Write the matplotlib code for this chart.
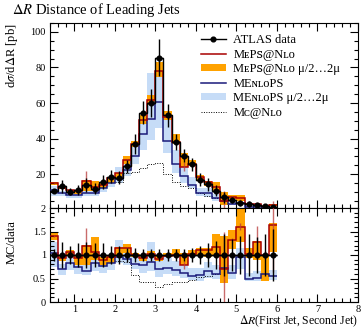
"""Delta-R between the two leading jets: ATLAS data vs. MC predictions."""

import numpy as np
import matplotlib

matplotlib.use("Agg")
from matplotlib import pyplot as plt
from matplotlib.lines import Line2D
from matplotlib.patches import Patch
from matplotlib.ticker import FuncFormatter, MultipleLocator

plt.rcParams["font.family"] = ["Liberation Serif", "DejaVu Serif", "DejaVu Sans"]
plt.rcParams["mathtext.fontset"] = "stix"

RED = "#a80000"
BLUE = "#1a1a7a"
ORANGE = "#ffa200"
LIGHTBLUE = "#c6dcf7"

bin_edges = [0.4, 0.6, 0.8, 1.0, 1.2, 1.4, 1.6, 1.8, 2.0, 2.2, 2.4, 2.6, 2.8, 3.0,
             3.2, 3.4, 3.6, 3.8, 4.0, 4.2, 4.4, 4.6, 4.8, 5.0, 5.2, 5.4, 5.6, 5.8, 6.0]

atlas = [10.6, 13.2, 10.2, 11.3, 13.8, 11.8, 15.8, 18.5, 18.0, 24.5, 37.0, 54.5, 60.0, 85.5,
         53.0, 38.0, 30.5, 25.5, 17.0, 14.3, 10.8, 7.0, 5.5, 4.0, 3.3, 2.6, 2.2, 1.8]
atlas_err = [1.3, 3.7, 2.0, 2.8, 3.9, 3.0, 4.0, 3.7, 3.6, 3.7, 5.6, 6.5, 7.8, 10.3,
             6.4, 4.6, 3.7, 3.8, 3.4, 3.6, 3.2, 3.2, 1.9, 1.6, 1.5, 1.0, 1.0, 1.0]

meps = [14.9, 12.3, 10.9, 10.5, 16.3, 12.6, 14.1, 17.6, 20.5, 28.2, 37.0, 50.7, 61.8, 77.8,
        51.9, 38.0, 24.1, 25.8, 18.7, 15.7, 12.7, 4.9, 7.2, 6.4, 3.4, 3.3, 2.2, 2.95]
meps_err = [0.3, 0.3, 0.3, 0.3, 5.4, 0.3, 0.3, 0.4, 0.4, 0.5, 0.6, 0.8, 0.9, 1.0,
            0.8, 0.6, 2.5, 0.5, 0.4, 0.4, 0.4, 5.5, 0.3, 0.3, 0.2, 0.9, 0.2, 1.8]
meps_lo = [14.0, 11.6, 10.0, 8.8, 10.8, 10.6, 12.3, 15.2, 18.0, 25.7, 35.2, 48.0, 58.8, 74.4,
           50.4, 36.9, 23.8, 24.7, 17.0, 13.6, 10.8, 2.9, 6.2, 5.1, 3.1, 2.3, 1.0, 1.93]
meps_hi = [15.6, 12.9, 11.2, 11.1, 16.6, 16.3, 15.0, 18.1, 20.9, 30.1, 38.9, 53.4, 64.8, 82.9,
           55.7, 42.6, 32.0, 28.1, 19.6, 16.4, 15.7, 9.8, 8.4, 8.4, 3.8, 3.4, 2.2, 3.03]

menlops = [11.1, 9.4, 8.4, 8.5, 9.2, 9.7, 12.2, 15.2, 17.1, 22.3, 30.3, 42.5, 51.0, 60.7,
           38.7, 25.8, 18.9, 14.0, 9.7, 9.3, 6.4, 5.0, 3.4, 3.8, 1.65, 1.35, 1.3, 1.0]
menlops_lo = [8.0, 7.7, 6.9, 6.8, 8.0, 7.7, 9.8, 12.6, 14.8, 19.1, 25.9, 33.8, 39.0, 46.2,
              31.8, 20.9, 15.3, 12.0, 7.7, 7.2, 5.2, 3.9, 2.75, 2.8, 1.5, 1.17, 1.1, 0.86]
menlops_hi = [13.6, 10.6, 9.7, 9.6, 11.0, 11.8, 14.5, 17.6, 23.8, 27.0, 36.3, 50.1, 76.8, 81.2,
              50.4, 33.4, 24.4, 18.4, 12.2, 12.2, 8.6, 6.0, 4.3, 4.6, 2.05, 1.7, 1.6, 1.22]

# MC@NLO only covers the central part of the range
mcnlo = [None, None, None, None, None, None, None, None, 15.8, 20.8, 21.1, 23.4, 25.8, 26.5,
         20.0, 15.8, 13.3, 12.0, 9.2, 7.8, 6.4, None, None, None, None, None, None, None]


def draw_panel(ax, scale, data_values):
    edges = np.asarray(bin_edges)
    centers = 0.5 * (edges[:-1] + edges[1:])
    half = 0.5 * np.diff(edges)

    ax.stairs(np.asarray(menlops_hi) / scale, edges, baseline=np.asarray(menlops_lo) / scale,
              fill=True, color=LIGHTBLUE, lw=0, zorder=1)
    ax.stairs(np.asarray(meps_hi) / scale, edges, baseline=np.asarray(meps_lo) / scale,
              fill=True, color=ORANGE, lw=0, zorder=1.1)

    mc = np.array([np.nan if v is None else v for v in mcnlo], dtype=float)
    idx = np.flatnonzero(np.isfinite(mc))
    sl = slice(idx[0], idx[-1] + 1)
    sub_scale = scale[sl] if np.ndim(scale) else scale
    ax.stairs(mc[sl] / sub_scale, edges[idx[0]:idx[-1] + 2], baseline=None,
              color="black", ls=(0, (1, 1.5)), lw=0.7, zorder=2)

    ax.stairs(np.asarray(menlops) / scale, edges, baseline=None, color=BLUE, lw=1.1, zorder=3)
    ax.stairs(np.asarray(meps) / scale, edges, baseline=None, color=RED, lw=1.1, zorder=4)
    ax.vlines(centers, (np.asarray(meps) - meps_err) / scale,
              (np.asarray(meps) + meps_err) / scale, color="#b83a3a", lw=1.0, alpha=0.75,
              zorder=4)

    ax.stairs(data_values, edges, baseline=None, color="black", lw=1.0, zorder=5)
    ax.errorbar(centers, data_values, yerr=np.asarray(atlas_err) / scale, xerr=half,
                fmt="o", color="black", ms=3.4, lw=1.0, capsize=0, zorder=6)


def style_axes(ax):
    ax.tick_params(which="both", direction="in", top=True, right=True, width=0.8,
                   labelsize=7.5, pad=3)
    ax.tick_params(which="major", length=5.5)
    ax.tick_params(which="minor", length=2.8)
    for spine in ax.spines.values():
        spine.set_linewidth(0.8)
    ax.set_xlim(0.4, 8.0)
    ax.xaxis.set_major_locator(MultipleLocator(1))
    ax.xaxis.set_minor_locator(MultipleLocator(0.2))


fig = plt.figure(figsize=(3.64, 3.30), dpi=100)
ax_main = fig.add_axes([50 / 364, 1 - 208 / 330, 308 / 364, 185 / 330])
ax_ratio = fig.add_axes([50 / 364, 1 - 302 / 330, 308 / 364, 94 / 330])

atlas_arr = np.asarray(atlas)
draw_panel(ax_main, 1.0, atlas_arr)
draw_panel(ax_ratio, atlas_arr, atlas_arr / atlas_arr)

style_axes(ax_main)
ax_main.set_ylim(1, 105)
ax_main.yaxis.set_major_locator(MultipleLocator(20))
ax_main.yaxis.set_minor_locator(MultipleLocator(5))
ax_main.tick_params(labelbottom=False)

style_axes(ax_ratio)
ax_ratio.set_ylim(0, 2)
ax_ratio.yaxis.set_major_locator(MultipleLocator(0.5))
ax_ratio.yaxis.set_minor_locator(MultipleLocator(0.1))
ax_ratio.yaxis.set_major_formatter(FuncFormatter(lambda v, _: f"{v:g}"))
ax_ratio.xaxis.set_major_formatter(FuncFormatter(lambda v, _: f"{v:g}"))
ax_ratio.tick_params(axis="x", pad=2)

handles = [
    Line2D([], [], color="black", marker="o", ms=3.4, lw=1.0),
    Line2D([], [], color=RED, lw=1.1),
    Patch(facecolor=ORANGE, edgecolor="none"),
    Line2D([], [], color=BLUE, lw=1.1),
    Patch(facecolor=LIGHTBLUE, edgecolor="none"),
    Line2D([], [], color="black", ls=(0, (1, 1.5)), lw=0.7),
]
labels = [
    "ATLAS data",
    "MᴇPꜱ@Nʟᴏ",
    "MᴇPꜱ@Nʟᴏ μ/2…2μ",
    "MEɴʟᴏPS",
    "MEɴʟᴏPS μ/2…2μ",
    "Mᴄ@Nʟᴏ",
]
ax_main.legend(handles, labels, loc="upper left", bbox_to_anchor=(0.49, 0.94), frameon=False,
               fontsize=9, handlelength=2.0, handleheight=0.55, labelspacing=0.2,
               handletextpad=0.6, borderaxespad=0, borderpad=0)

fig.text(12 / 364, 1 - 10 / 330, r"$\Delta R$ Distance of Leading Jets", ha="left",
         va="center", fontsize=10.5)
fig.text(12 / 364, 1 - 23 / 330, r"d$\sigma$/d$\Delta$R [pb]", rotation=90, ha="center",
         va="top", fontsize=9)
fig.text(12 / 364, 1 - 220 / 330, "MC/data", rotation=90, ha="center", va="top", fontsize=9)
fig.text(358 / 364, 1 - 321 / 330, r"$\Delta R$(First Jet, Second Jet)", ha="right",
         va="center", fontsize=8.5)

fig.savefig("out.png", dpi=100)
plt.close(fig)
